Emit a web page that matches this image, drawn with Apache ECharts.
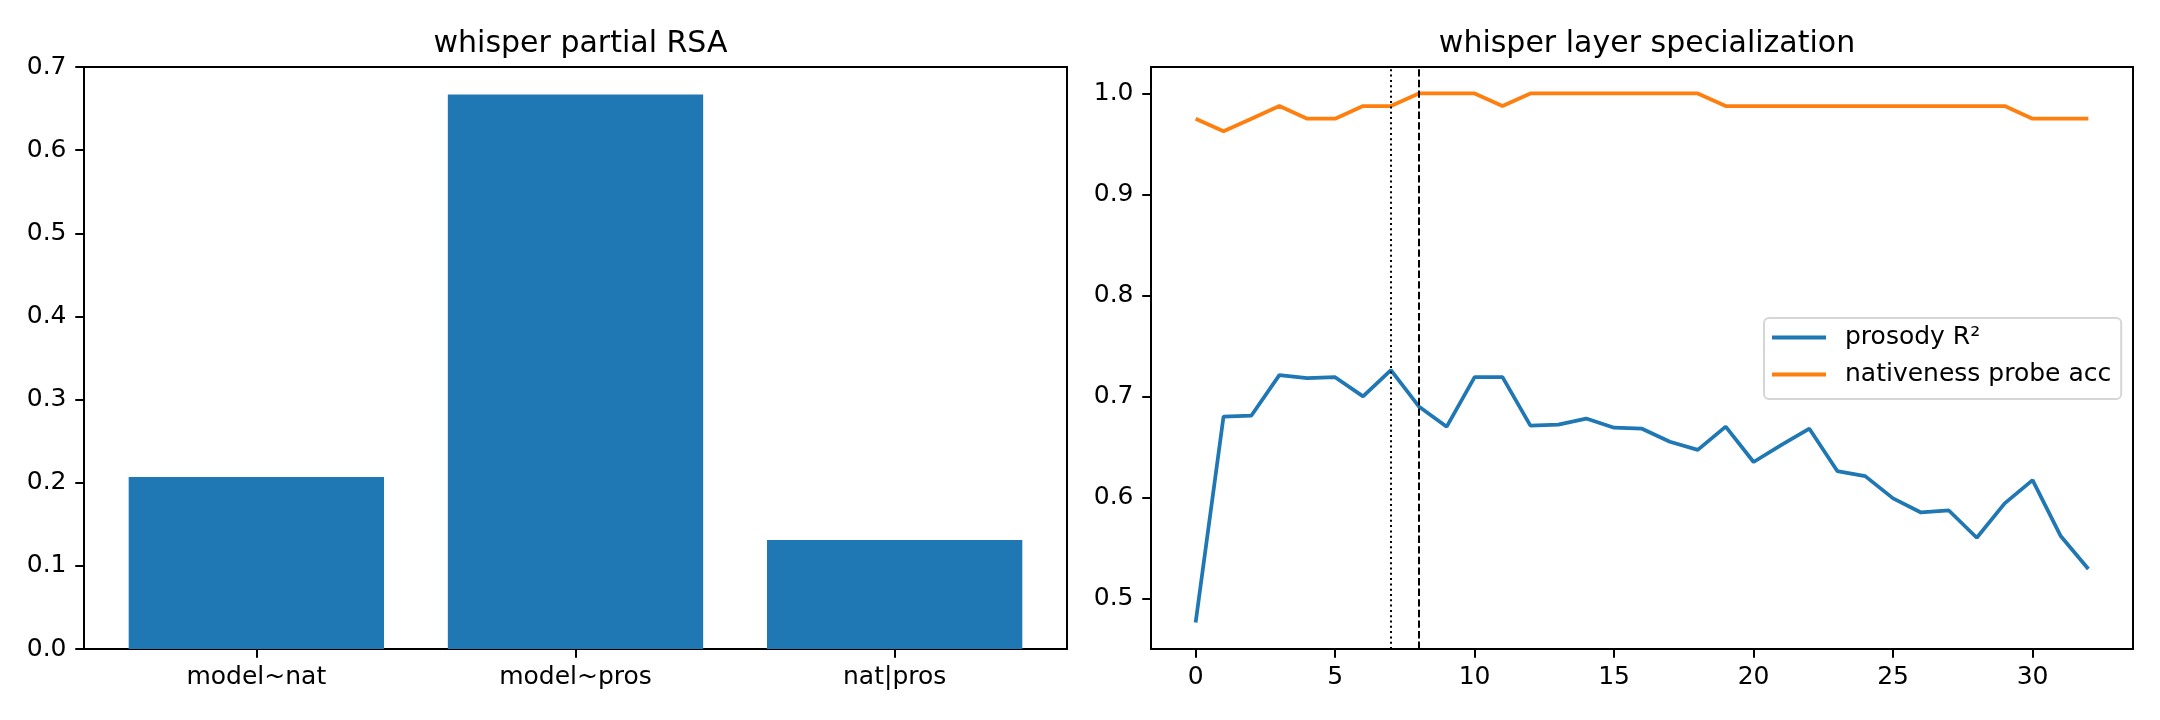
<!DOCTYPE html>
<html>
<head>
<meta charset="utf-8">
<script src="https://cdn.jsdelivr.net/npm/echarts@6/dist/echarts.min.js"></script>
<style>
html,body{margin:0;padding:0;background:#fff;}
#chart{width:2160px;height:720px;}
</style>
</head>
<body>
<div id="chart"></div>
<script>
// ---- data ----
const rsaCategories = ['model~nat', 'model~pros', 'nat|pros'];
const rsaValues = [0.207, 0.667, 0.131];

const layers = [0,1,2,3,4,5,6,7,8,9,10,11,12,13,14,15,16,17,18,19,20,21,22,23,24,25,26,27,28,29,30,31,32];
const prosodyR2 = [0.476,0.680,0.681,0.721,0.718,0.719,0.700,0.726,0.690,0.670,0.719,0.719,0.671,0.672,0.678,0.669,0.668,0.655,0.647,0.670,0.635,0.652,0.668,0.626,0.621,0.599,0.585,0.587,0.560,0.594,0.617,0.562,0.529];
const nativenessAcc = [0.975,0.9625,0.975,0.9875,0.975,0.975,0.9875,0.9875,1.0,1.0,1.0,0.9875,1.0,1.0,1.0,1.0,1.0,1.0,1.0,0.9875,0.9875,0.9875,0.9875,0.9875,0.9875,0.9875,0.9875,0.9875,0.9875,0.9875,0.975,0.975,0.975];
const rightYTicks = [0.5,0.6,0.7,0.8,0.9,1.0];
const rightXTicks = [0,5,10,15,20,25,30];
const markerLayers = [7, 8];

// ---- chart ----
const FONT = 'DejaVu Sans';
const LBL = 25;
const chart = echarts.init(document.getElementById('chart'), null, {renderer: 'canvas'});

const g0 = {left: 84, top: 67, width: 983, height: 582};
const g1 = {left: 1151, top: 67, width: 982, height: 582};
const barW = g0.width * 0.8 / 3.08;

const axisCommon = {
  axisLine: {show: true, onZero: false, lineStyle: {color: '#000', width: 2}},
  axisTick: {show: true, inside: false, length: 8.75, lineStyle: {color: '#000', width: 2}},
  axisLabel: {color: '#000', fontFamily: FONT, fontSize: LBL, margin: 16},
  splitLine: {show: false}
};
const yLabel = Object.assign({}, axisCommon.axisLabel, {margin: 17.5});

const option = {
  animation: false,
  backgroundColor: '#fff',
  title: [
    {text: 'whisper partial RSA', left: g0.left + g0.width / 2, top: 24, textAlign: 'center',
     textStyle: {fontFamily: FONT, fontSize: 30, fontWeight: 'normal', color: '#000'}},
    {text: 'whisper layer specialization', left: g1.left + g1.width / 2, top: 24, textAlign: 'center',
     textStyle: {fontFamily: FONT, fontSize: 30, fontWeight: 'normal', color: '#000'}}
  ],
  grid: [
    Object.assign({show: true, borderColor: '#000', borderWidth: 2, backgroundColor: 'transparent', containLabel: false}, g0),
    Object.assign({show: true, borderColor: '#000', borderWidth: 2, backgroundColor: 'transparent', containLabel: false}, g1)
  ],
  xAxis: [
    Object.assign({}, axisCommon, {
      type: 'value', gridIndex: 0, position: 'bottom', min: -0.54, max: 2.54,
      axisTick: Object.assign({}, axisCommon.axisTick, {customValues: [0, 1, 2]}),
      axisLabel: Object.assign({}, axisCommon.axisLabel, {customValues: [0, 1, 2],
        formatter: v => rsaCategories[Math.round(v)] || ''})
    }),
    Object.assign({}, axisCommon, {
      type: 'value', gridIndex: 1, position: 'bottom', min: -1.6, max: 33.6,
      axisTick: Object.assign({}, axisCommon.axisTick, {customValues: rightXTicks}),
      axisLabel: Object.assign({}, axisCommon.axisLabel, {customValues: rightXTicks})
    })
  ],
  yAxis: [
    Object.assign({}, axisCommon, {
      type: 'value', gridIndex: 0, position: 'left', min: 0, max: 0.7, interval: 0.1,
      axisLabel: Object.assign({}, yLabel, {formatter: v => v.toFixed(1)})
    }),
    Object.assign({}, axisCommon, {
      type: 'value', gridIndex: 1, position: 'left', min: 0.4498, max: 1.0262,
      axisTick: Object.assign({}, axisCommon.axisTick, {customValues: rightYTicks}),
      axisLabel: Object.assign({}, yLabel, {customValues: rightYTicks, formatter: v => v.toFixed(1)})
    })
  ],
  legend: {
    show: true,
    orient: 'vertical',
    left: 1764, top: 318,
    padding: [7, 10, 12, 8],
    itemGap: 12,
    itemWidth: 54, itemHeight: 4,
    icon: 'rect',
    backgroundColor: '#fff',
    borderColor: '#d6d6d6', borderWidth: 2, borderRadius: 5,
    textStyle: {fontFamily: FONT, fontSize: LBL, color: '#000', padding: [0, 0, 0, 14], lineHeight: 25},
    data: ['prosody R²', 'nativeness probe acc']
  },
  series: [
    {
      type: 'bar', xAxisIndex: 0, yAxisIndex: 0,
      data: rsaValues.map((v, i) => [i, v]),
      barWidth: barW,
      itemStyle: {color: '#1f77b4'}
    },
    {
      name: 'prosody R²', type: 'line', xAxisIndex: 1, yAxisIndex: 1,
      data: layers.map((l, i) => [l, prosodyR2[i]]),
      showSymbol: false, symbol: 'none',
      lineStyle: {color: '#1f77b4', width: 3.75},
      itemStyle: {color: '#1f77b4'},
      markLine: {
        silent: true, symbol: 'none', label: {show: false},
        data: [
          {xAxis: markerLayers[0], lineStyle: {color: '#000', width: 2, type: [2, 3.3]}},
          {xAxis: markerLayers[1], lineStyle: {color: '#000', width: 2, type: [7.4, 3.2]}}
        ]
      }
    },
    {
      name: 'nativeness probe acc', type: 'line', xAxisIndex: 1, yAxisIndex: 1,
      data: layers.map((l, i) => [l, nativenessAcc[i]]),
      showSymbol: false, symbol: 'none',
      lineStyle: {color: '#ff7f0e', width: 3.75},
      itemStyle: {color: '#ff7f0e'}
    }
  ]
};
chart.setOption(option);
</script>
</body>
</html>
